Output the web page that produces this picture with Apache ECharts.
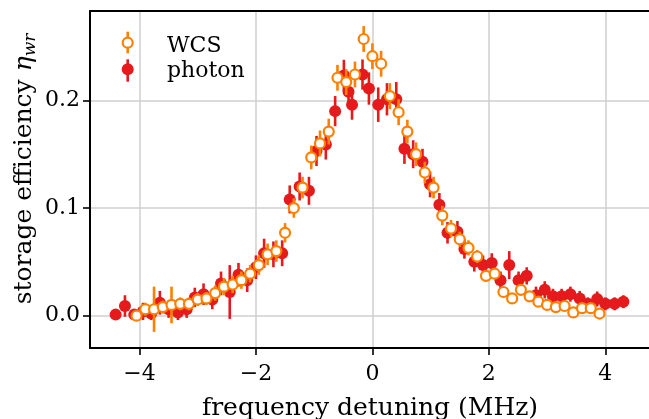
<!DOCTYPE html>
<html>
<head>
<meta charset="utf-8">
<script src="https://cdn.jsdelivr.net/npm/echarts@6/dist/echarts.min.js"></script>
<style>
html,body{margin:0;padding:0;background:#fff;}
#chart{width:649px;height:419px;}
</style>
</head>
<body>
<div id="chart"></div>
<script>
// WCS (weak coherent states): detuning (MHz), efficiency, error
const wcsX = [-4.05,-3.90,-3.75,-3.60,-3.45,-3.30,-3.15,-3.00,-2.85,-2.70,-2.55,-2.40,-2.25,-2.10,-1.95,-1.80,-1.65,-1.50,-1.35,-1.20,-1.05,-0.90,-0.75,-0.60,-0.45,-0.30,-0.15,0.00,0.15,0.30,0.45,0.60,0.75,0.90,1.05,1.20,1.35,1.50,1.65,1.80,1.95,2.10,2.25,2.40,2.55,2.70,2.85,3.00,3.15,3.30,3.45,3.60,3.75,3.90];
const wcsY = [0.000,0.006,0.006,0.008,0.010,0.011,0.011,0.015,0.016,0.021,0.027,0.029,0.033,0.039,0.047,0.057,0.060,0.077,0.100,0.119,0.147,0.160,0.171,0.221,0.217,0.224,0.257,0.241,0.234,0.204,0.189,0.171,0.150,0.133,0.119,0.093,0.081,0.071,0.063,0.055,0.037,0.039,0.022,0.016,0.024,0.018,0.013,0.010,0.008,0.009,0.003,0.007,0.007,0.002];
const wcsErr = [0.004,0.006,0.021,0.006,0.017,0.006,0.006,0.006,0.006,0.007,0.008,0.008,0.008,0.008,0.009,0.010,0.010,0.009,0.009,0.010,0.011,0.012,0.012,0.012,0.012,0.012,0.012,0.012,0.012,0.012,0.012,0.011,0.011,0.010,0.010,0.009,0.008,0.007,0.007,0.006,0.005,0.005,0.004,0.004,0.004,0.004,0.004,0.004,0.004,0.004,0.004,0.004,0.004,0.004];

// single photons
const phX = [-4.41,-4.25,-4.09,-3.94,-3.80,-3.65,-3.50,-3.34,-3.19,-3.05,-2.90,-2.75,-2.60,-2.45,-2.30,-2.15,-2.00,-1.86,-1.70,-1.55,-1.42,-1.25,-1.09,-0.96,-0.80,-0.64,-0.49,-0.41,-0.35,-0.17,-0.06,0.10,0.25,0.41,0.55,0.70,0.86,0.99,1.15,1.29,1.46,1.58,1.75,1.90,2.05,2.20,2.35,2.51,2.65,2.81,2.96,3.10,3.25,3.40,3.56,3.70,3.86,4.00,4.16,4.31];
const phY = [0.001,0.009,0.001,0.004,0.002,0.012,0.006,0.003,0.006,0.017,0.020,0.015,0.030,0.022,0.038,0.033,0.045,0.058,0.057,0.058,0.108,0.120,0.116,0.153,0.159,0.190,0.223,0.208,0.196,0.224,0.211,0.196,0.201,0.201,0.155,0.150,0.143,0.122,0.103,0.077,0.078,0.062,0.050,0.047,0.049,0.033,0.047,0.033,0.037,0.019,0.024,0.018,0.018,0.020,0.016,0.011,0.0155,0.011,0.011,0.013];
const phErr = [0.004,0.010,0.005,0.008,0.006,0.011,0.008,0.007,0.008,0.009,0.010,0.009,0.011,0.025,0.011,0.011,0.011,0.0135,0.012,0.012,0.013,0.013,0.013,0.014,0.014,0.014,0.0147,0.014,0.014,0.014,0.015,0.016,0.015,0.016,0.014,0.013,0.012,0.012,0.011,0.010,0.010,0.009,0.009,0.009,0.009,0.008,0.013,0.008,0.008,0.008,0.008,0.007,0.007,0.007,0.007,0.006,0.007,0.006,0.006,0.006];

const xTicks = [-4, -2, 0, 2, 4];
const yTicks = [0, 0.1, 0.2];

const ORANGE = '#ff7f00';
const RED = '#e41a1c';
const SERIF = '"DejaVu Serif", serif';

function errData(xs, ys, es) {
  return xs.map((x, i) => [x, ys[i] - es[i], ys[i] + es[i]]);
}
function ptData(xs, ys) {
  return xs.map((x, i) => [x, ys[i]]);
}
function errRender(color) {
  return function (params, api) {
    const x = api.value(0);
    const p1 = api.coord([x, api.value(1)]);
    const p2 = api.coord([x, api.value(2)]);
    return {
      type: 'line',
      shape: { x1: p1[0], y1: p1[1], x2: p2[0], y2: p2[1] },
      style: { stroke: color, lineWidth: 2.6 }
    };
  };
}

const chart = echarts.init(document.getElementById('chart'), null, { renderer: 'canvas' });
chart.setOption({
  animation: false,
  backgroundColor: '#fff',
  grid: { left: 90, right: -6, top: 11, bottom: 71, show: false },
  xAxis: [{
    type: 'value', min: -4.85, max: 4.75,
    axisLine: { show: true, onZero: false, lineStyle: { color: '#000', width: 2 } },
    axisTick: { show: true, customValues: xTicks, length: 7, lineStyle: { color: '#000', width: 1.6 } },
    axisLabel: {
      customValues: xTicks, margin: 15,
      formatter: v => String(v).replace('-', '\u2212'),
      fontFamily: SERIF, fontSize: 22, color: '#000'
    },
    splitLine: { show: true, lineStyle: { color: '#cfcfcf', width: 1.5 } }
  }, {
    type: 'value', position: 'top', min: -4.85, max: 4.75,
    axisLine: { show: true, onZero: false, lineStyle: { color: '#000', width: 2 } },
    axisTick: { show: false }, axisLabel: { show: false }, splitLine: { show: false }
  }],
  yAxis: {
    type: 'value', min: -0.030, max: 0.283,
    axisLine: { show: true, onZero: false, lineStyle: { color: '#000', width: 2 } },
    axisTick: { show: true, customValues: yTicks, length: 7, lineStyle: { color: '#000', width: 1.6 } },
    axisLabel: {
      customValues: yTicks, margin: 10,
      formatter: v => v.toFixed(1),
      fontFamily: SERIF, fontSize: 22, color: '#000'
    },
    splitLine: { show: true, lineStyle: { color: '#cfcfcf', width: 1.5 } }
  },
  series: [
    { type: 'custom', name: 'photon err', renderItem: errRender(RED), data: errData(phX, phY, phErr), z: 2 },
    { type: 'scatter', name: 'photon', data: ptData(phX, phY), symbol: 'circle', symbolSize: 12,
      itemStyle: { color: RED, opacity: 1 }, z: 3 },
    { type: 'custom', name: 'WCS err', renderItem: errRender(ORANGE), data: errData(wcsX, wcsY, wcsErr), z: 4 },
    { type: 'scatter', name: 'WCS', data: ptData(wcsX, wcsY), symbol: 'circle', symbolSize: 10,
      itemStyle: { color: '#fff', borderColor: ORANGE, borderWidth: 2.2, opacity: 1 }, z: 5 }
  ],
  graphic: [
    // legend
    { type: 'line', shape: { x1: 127.7, y1: 31.7, x2: 127.7, y2: 53.3 }, style: { stroke: ORANGE, lineWidth: 2.6 }, z: 10 },
    { type: 'circle', shape: { cx: 127.7, cy: 42.7, r: 5 }, style: { fill: '#fff', stroke: ORANGE, lineWidth: 2.2 }, z: 11 },
    { type: 'line', shape: { x1: 127.7, y1: 59.3, x2: 127.7, y2: 81.7 }, style: { stroke: RED, lineWidth: 2.6 }, z: 10 },
    { type: 'circle', shape: { cx: 127.7, cy: 69.3, r: 6 }, style: { fill: RED }, z: 11 },
    { type: 'text', x: 167, y: 46, style: { text: 'WCS', font: '22px ' + SERIF, fill: '#000', verticalAlign: 'middle', align: 'left' }, z: 11 },
    { type: 'text', x: 167, y: 71.5, style: { text: 'photon', font: '22px ' + SERIF, fill: '#000', verticalAlign: 'middle', align: 'left' }, z: 11 },
    // x axis title
    { type: 'text', x: 370, y: 408, style: { text: 'frequency detuning (MHz)', font: '25px ' + SERIF, fill: '#000', align: 'center', verticalAlign: 'middle' }, z: 11 },
    // y axis title
    { type: 'text', x: 24.5, y: 169, rotation: Math.PI / 2,
      style: {
        text: '{a|storage efficiency }{b|η}{c|wr}',
        align: 'center', verticalAlign: 'middle',
        rich: {
          a: { fontFamily: SERIF, fontSize: 25, lineHeight: 30, fill: '#000', color: '#000' },
          b: { fontFamily: SERIF, fontSize: 25, lineHeight: 30, fontStyle: 'italic', fill: '#000', color: '#000' },
          c: { fontFamily: SERIF, fontSize: 17, lineHeight: 17, fontStyle: 'italic', verticalAlign: 'bottom', fill: '#000', color: '#000' }
        }
      }, z: 11 }
  ]
});
</script>
</body>
</html>
